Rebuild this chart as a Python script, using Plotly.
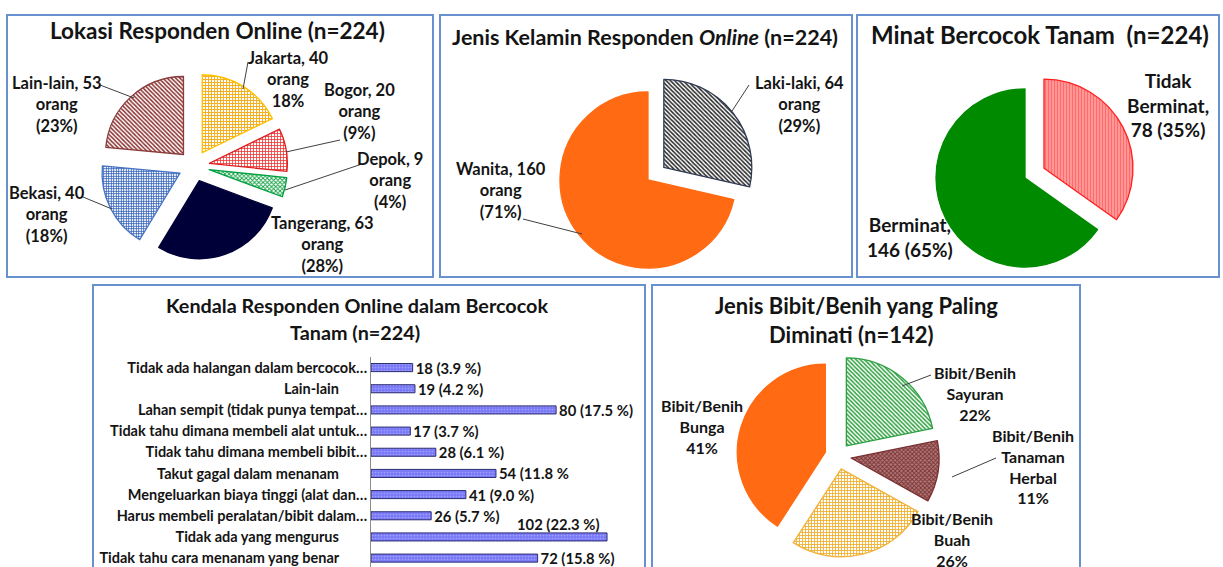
import plotly.graph_objects as go

W, H = 1223, 567

# ---------------- DATA ----------------
loc_labels = ["Jakarta", "Bogor", "Depok", "Tangerang", "Bekasi", "Lain-lain"]
loc_values = [40, 20, 9, 63, 40, 53]
loc_pct = ["18%", "(9%)", "(4%)", "(28%)", "(18%)", "(23%)"]

gender_labels = ["Laki-laki", "Wanita"]
gender_values = [64, 160]
gender_pct = ["(29%)", "(71%)"]

minat_labels = ["Tidak Berminat", "Berminat"]
minat_values = [78, 146]
minat_pct = ["35%", "65%"]

bibit_labels = ["Bibit/Benih Sayuran", "Bibit/Benih Tanaman Herbal", "Bibit/Benih Buah", "Bibit/Benih Bunga"]
bibit_values = [31, 16, 37, 58]
bibit_pct = ["22%", "11%", "26%", "41%"]

kendala_categories = [
    "Tidak ada halangan dalam bercocok…",
    "Lain-lain",
    "Lahan sempit (tidak punya tempat…",
    "Tidak tahu dimana membeli alat untuk…",
    "Tidak tahu dimana membeli bibit…",
    "Takut gagal dalam menanam",
    "Mengeluarkan biaya tinggi (alat dan…",
    "Harus membeli peralatan/bibit dalam…",
    "Tidak ada yang mengurus",
    "Tidak tahu cara menanam yang benar",
]
kendala_values = [18, 19, 80, 17, 28, 54, 41, 26, 102, 72]
kendala_text = ["18 (3.9 %)", "19 (4.2 %)", "80 (17.5 %)", "17 (3.7 %)", "28 (6.1 %)",
                "54 (11.8 %", "41 (9.0 %)", "26 (5.7 %)", "102 (22.3 %)", "72 (15.8 %)"]

# ---------------- HELPERS ----------------
FONT = "Lato"
TXT = "#141414"
BORDER = "#6892cf"


def px(x):
    return x / W


def py(y):
    return 1 - y / H


def pie_domain(cx, cy, r, pull):
    side = 2 * r * (1 + pull)
    return dict(x=[(cx - side / 2) / W, (cx + side / 2) / W],
                y=[1 - (cy + side / 2) / H, 1 - (cy - side / 2) / H])


def bold(size):
    return dict(family=FONT, size=size, color=TXT, weight="bold")


fig = go.Figure()

# ---- Pie 1: Lokasi ----
fig.add_trace(go.Pie(
    labels=loc_labels, values=loc_values, sort=False, direction="clockwise",
    textinfo="none", hoverinfo="label+value", showlegend=False,
    pull=[0.2] * len(loc_values),
    domain=pie_domain(194, 166, 78, 0.2),
    marker=dict(
        colors=["#FFC000", "#FF2020", "#00A040", "#000038", "#4472C4", "#943634"],
        line=dict(color=["#FFC000", "#E02020", "#00A040", "#000038", "#4472C4", "#8B3A3A"], width=1.3),
        pattern=dict(shape=["+", "+", "x", "", "+", "\\"],
                     fgcolor=["#F5B020", "#F03030", "#10A040", "#000038", "#3060B8", "#8B3030"],
                     bgcolor="white", size=[3, 3, 3, 6, 2.5, 3], solidity=[0.55, 0.45, 0.5, 0.5, 0.55, 0.5],
                     fillmode="replace"),
    ),
))

# ---- Pie 2: Jenis Kelamin ----
fig.add_trace(go.Pie(
    labels=gender_labels, values=gender_values, sort=False, direction="clockwise",
    textinfo="none", showlegend=False, pull=[0.23, 0],
    domain=pie_domain(648, 180, 88, 0.23),
    marker=dict(
        colors=["#333333", "#FF6A13"],
        line=dict(color=["#2F3A55", "#FF6A13"], width=1.3),
        pattern=dict(shape=["\\", ""], fgcolor=["#262626", "#FF6A13"], bgcolor="white",
                     size=3, solidity=0.5, fillmode="replace"),
    ),
))

# ---- Pie 3: Minat ----
fig.add_trace(go.Pie(
    labels=minat_labels, values=minat_values, sort=False, direction="clockwise",
    textinfo="none", showlegend=False, pull=[0.24, 0],
    domain=pie_domain(1025, 178, 89, 0.24),
    marker=dict(
        colors=["#FF5555", "#008A00"],
        line=dict(color=["#FF2020", "#008A00"], width=1.3),
        pattern=dict(shape=["|", ""], fgcolor=["#FF6A6A", "#008A00"], bgcolor="white",
                     size=3, solidity=0.8, fillmode="replace"),
    ),
))

# ---- Pie 5: Bibit ----
fig.add_trace(go.Pie(
    labels=bibit_labels, values=bibit_values, sort=False, direction="clockwise",
    textinfo="none", showlegend=False, pull=[0.15] * len(bibit_values),
    domain=pie_domain(838, 456, 88, 0.15),
    marker=dict(
        colors=["#2EA043", "#8B3A3A", "#F2B23C", "#FF6A13"],
        line=dict(color=["#2EA043", "#7A3030", "#F2B23C", "#FF6A13"], width=1.3),
        pattern=dict(shape=["\\", "x", "+", ""],
                     fgcolor=["#30A040", "#7A3030", "#F0B030", "#FF6A13"],
                     bgcolor=["white", "#B07A7A", "white", "white"],
                     size=[3, 3, 3, 5], solidity=[0.5, 0.5, 0.5, 0.5], fillmode="replace"),
    ),
))

# ---- Bar chart: Kendala ----
bar_text = [t if v != max(kendala_values) else "" for t, v in zip(kendala_text, kendala_values)]
fig.add_trace(go.Bar(
    y=kendala_categories, x=kendala_values, orientation="h", width=0.38,
    text=bar_text, textposition="outside", constraintext="none", cliponaxis=False,
    textfont=bold(14.8), showlegend=False,
    marker=dict(color="#7A7AF8", line=dict(color="#2A2A70", width=1),
                pattern=dict(shape=".", fgcolor="#C8C8FF", size=3, solidity=0.25, fillmode="overlay")),
    xaxis="x", yaxis="y",
))

x0_axis, x_scale = 371, 2.314
long_labels = [c if c.endswith("…") else c + "\u00a0" * 8 for c in kendala_categories]

fig.update_layout(
    width=W, height=H, margin=dict(l=0, r=0, t=0, b=0),
    paper_bgcolor="white", plot_bgcolor="white",
    xaxis=dict(domain=[px(x0_axis), px(640)], range=[0, (640 - x0_axis) / x_scale],
               visible=False, automargin=False, fixedrange=True),
    yaxis=dict(domain=[0, py(357)], range=[9.42, -0.5], type="category",
               tickmode="array", tickvals=kendala_categories, ticktext=long_labels,
               tickfont=bold(14.5), showline=True, linecolor="#8C8C8C", linewidth=1,
               ticks="", showgrid=False, zeroline=False, automargin=False, fixedrange=True),
    bargap=0.6,
)

annotations = []
shapes = []

# panel borders
for (a, b, c, d) in [(7, 15, 433, 277), (440, 15, 852, 277), (857, 15, 1219, 277),
                     (93, 285, 645, 590), (652, 285, 1080, 590)]:
    shapes.append(dict(type="rect", xref="paper", yref="paper", x0=px(a), x1=px(c), y0=py(b), y1=py(d),
                       line=dict(color=BORDER, width=2), fillcolor="rgba(0,0,0,0)", layer="below"))

# titles
titles = [
    ("Lokasi Responden Online (n=224)", 217, 30, 22.5),
    ("Jenis Kelamin Responden <i>Online</i> (n=224)", 645, 37, 21.5),
    ("Minat Bercocok Tanam  (n=224)", 1040, 34, 24),
    ("Kendala Responden Online dalam Bercocok", 357, 305, 19.8),
    ("Tanam (n=224)", 355, 332, 19.8),
    ("Jenis Bibit/Benih yang Paling", 856, 305, 22),
    ("Diminati (n=142)", 852, 334, 22),
]
for t, x, y, s in titles:
    annotations.append(dict(text=t, x=px(x), y=py(y), xref="paper", yref="paper",
                            xanchor="center", yanchor="middle", showarrow=False, font=bold(s)))

# pie 1 labels
loc_pos = [(288, 79), (359, 111), (390, 181), (322, 245), (47, 214), (57, 104)]
for lab, v, p, (x, y) in zip(loc_labels, loc_values, loc_pct, loc_pos):
    annotations.append(dict(text=f"{lab}, {v}<br>orang<br>{p}", x=px(x), y=py(y), xref="paper", yref="paper",
                            xanchor="center", yanchor="middle", showarrow=False, font=bold(16.5)))
loc_leaders = [((248, 62), (243, 89)), ((340, 140), (286, 152)), ((362, 164), (285, 190)),
               ((83, 197), (112, 209)), ((100, 85), (134, 98))]

# pie 2 labels
gender_pos = [(799, 104), (501, 190)]
for lab, v, p, (x, y) in zip(gender_labels, gender_values, gender_pct, gender_pos):
    annotations.append(dict(text=f"{lab}, {v}<br>orang<br>{p}", x=px(x), y=py(y), xref="paper", yref="paper",
                            xanchor="center", yanchor="middle", showarrow=False, font=bold(16.5)))
gender_leaders = [((749, 85), (732, 111)), ((523, 219), (582, 234))]

# pie 3 labels
minat_pos = [(1168, 105), (910, 237)]
for lab, v, p, (x, y) in zip(minat_labels, minat_values, minat_pct, minat_pos):
    txt = lab.replace(" ", "<br>") + f",<br>{v} ({p})"
    annotations.append(dict(text=txt, x=px(x), y=py(y), xref="paper", yref="paper",
                            xanchor="center", yanchor="middle", showarrow=False, font=bold(19)))

# pie 5 labels
bibit_pos = [(975, 393), (1033, 466), (952, 539), (702, 426)]
for lab, p, (x, y) in zip(bibit_labels, bibit_pct, bibit_pos):
    txt = lab.replace(" ", "<br>") + f"<br>{p}"
    annotations.append(dict(text=txt, x=px(x), y=py(y), xref="paper", yref="paper",
                            xanchor="center", yanchor="middle", showarrow=False, font=bold(16)))
bibit_leaders = [((931, 375), (902, 386)), ((996, 458), (952, 477))]

for (a, b), (c, d) in loc_leaders + gender_leaders + bibit_leaders:
    shapes.append(dict(type="line", xref="paper", yref="paper", x0=px(a), y0=py(b), x1=px(c), y1=py(d),
                       line=dict(color="#404040", width=1)))

# special label for the longest bar (drawn above its bar)
imax = kendala_values.index(max(kendala_values))
annotations.append(dict(text=kendala_text[imax], x=kendala_values[imax], y=kendala_categories[imax],
                        xref="x", yref="y", xanchor="right", yanchor="middle", xshift=-6, yshift=13,
                        showarrow=False, font=bold(14.8)))

fig.update_layout(annotations=annotations, shapes=shapes)
fig.write_html("out.html", config={"displayModeBar": False},
               post_script="document.body.style.margin='0';document.body.style.overflow='hidden';")
